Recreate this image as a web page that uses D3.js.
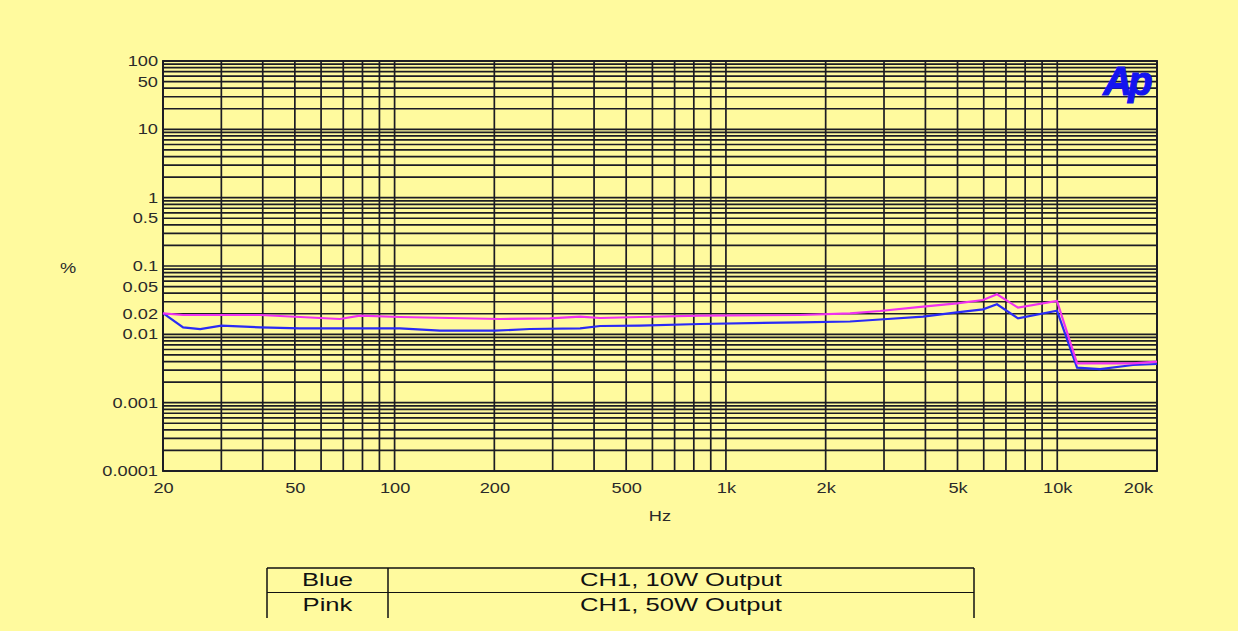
<!DOCTYPE html>
<html><head><meta charset="utf-8">
<script src="https://cdn.jsdelivr.net/npm/d3@7"></script>
<style>
html,body{margin:0;padding:0;background:#fff;}
svg{display:block;}
text{font-family:"Liberation Sans",Arial,sans-serif;}
</style></head>
<body>
<svg id="chart" width="1238" height="631"></svg>
<script>
// ---- data ----
const blueFreq = [20, 23, 25.9, 30, 39.3, 51.8, 103.8, 137, 201, 256, 363, 417, 550, 836, 1673, 2368, 2918, 3934, 4980, 5970, 6578, 7612, 9980, 11474, 13460, 16930, 20000];
const blueVal  = [0.0205, 0.01267, 0.01196, 0.01337, 0.01267, 0.01225, 0.01225, 0.0113, 0.0113, 0.01196, 0.01225, 0.01324, 0.01345, 0.01416, 0.0150, 0.0154, 0.01648, 0.01811, 0.0210, 0.02323, 0.0275, 0.01716, 0.0222, 0.00325, 0.0031, 0.00356, 0.00368];
const pinkFreq = [20, 23, 39.3, 68.4, 78.6, 103.8, 208, 294, 363, 417, 550, 836, 1673, 2368, 2918, 3934, 4980, 5970, 6578, 7612, 9980, 11474, 16930, 20000];
const pinkVal  = [0.0203, 0.01918, 0.01918, 0.01676, 0.01873, 0.01792, 0.01676, 0.01715, 0.01811, 0.01734, 0.01792, 0.01873, 0.01918, 0.0203, 0.02195, 0.02536, 0.02844, 0.03179, 0.03855, 0.02453, 0.03076, 0.003767, 0.003767, 0.003975];
const xTickVals = [20, 50, 100, 200, 500, 1000, 2000, 5000, 10000, 20000];
const xTickLabels = ["20", "50", "100", "200", "500", "1k", "2k", "5k", "10k", "20k"];
const yTickVals = [100, 50, 10, 1, 0.5, 0.1, 0.05, 0.02, 0.01, 0.001, 0.0001];
const yTickLabels = ["100", "50", "10", "1", "0.5", "0.1", "0.05", "0.02", "0.01", "0.001", "0.0001"];
const legendNames = ["Blue", "Pink"];
const legendDescs = ["CH1, 10W Output", "CH1, 50W Output"];

// ---- layout ----
const svg = d3.select("#chart");
const L = 163, R = 1157, T = 61, B = 471;
const bg = "#fffa9e";
const ink = "#1c1c24";
svg.append("rect").attr("x", 0).attr("y", 0).attr("width", 1238).attr("height", 631).attr("fill", bg);

const x = d3.scaleLog().domain([20, 20000]).range([L, R]);
const y = d3.scaleLog().domain([0.0001, 100]).range([B, T]);

function stretch(sel, f) {
  sel.each(function () {
    const w = this.getComputedTextLength();
    d3.select(this).attr("textLength", w * f).attr("lengthAdjust", "spacingAndGlyphs");
  });
}

// gridlines
const xGrid = [];
for (let d = 10; d <= 10000; d *= 10) for (let m = 1; m <= 9; m++) { const v = d * m; if (v >= 20 && v <= 20000) xGrid.push(v); }
const yGrid = [];
for (let d = 0.0001; d < 100; d *= 10) for (let m = 1; m <= 9; m++) yGrid.push(+(d * m).toPrecision(3));
yGrid.push(100);

const g = svg.append("g");
g.selectAll("line.hg").data(yGrid).join("line")
  .attr("x1", L).attr("x2", R).attr("y1", d => y(d)).attr("y2", d => y(d))
  .attr("stroke", ink).attr("stroke-width", 1.7);
g.selectAll("line.vg").data(xGrid).join("line")
  .attr("y1", T).attr("y2", B).attr("x1", d => x(d)).attr("x2", d => x(d))
  .attr("stroke", ink).attr("stroke-width", 1.7);
g.append("rect").attr("x", L).attr("y", T).attr("width", R - L).attr("height", B - T)
  .attr("fill", "none").attr("stroke", ink).attr("stroke-width", 1.9);

// axes labels
const labCol = "#2a2a2a";
const yAxis = d3.axisLeft(y).tickValues(yTickVals).tickSize(0).tickPadding(5)
  .tickFormat((d, i) => yTickLabels[i]);
const ya = svg.append("g").attr("transform", `translate(${L},0)`).call(yAxis);
ya.select(".domain").remove();
ya.selectAll("text").attr("font-size", 14).attr("fill", labCol).attr("font-family", "Liberation Sans, Arial, sans-serif");
stretch(ya.selectAll("text"), 1.3);

const xAxis = d3.axisBottom(x).tickValues(xTickVals).tickSize(0).tickPadding(12)
  .tickFormat((d, i) => xTickLabels[i]);
const xa = svg.append("g").attr("transform", `translate(0,${B})`).call(xAxis);
xa.select(".domain").remove();
xa.selectAll("text").attr("font-size", 14).attr("fill", labCol).attr("font-family", "Liberation Sans, Arial, sans-serif");
stretch(xa.selectAll("text"), 1.3);
xa.selectAll("text").filter(d => d === 20000).attr("x", -19);

const hz = svg.append("text").attr("x", 660).attr("y", 521).attr("text-anchor", "middle")
  .attr("font-size", 14).attr("fill", labCol).text("Hz");
stretch(hz, 1.3);
const pc = svg.append("text").attr("x", 68).attr("y", 273).attr("text-anchor", "middle")
  .attr("font-size", 14).attr("fill", labCol).text("%");
stretch(pc, 1.3);

// Ap logo
svg.append("text").attr("x", 1126).attr("y", 95).attr("text-anchor", "middle")
  .attr("font-size", 40).attr("font-weight", "bold").attr("font-style", "italic")
  .attr("fill", "#1414f0").attr("stroke", "#1414f0").attr("stroke-width", 1.2)
  .attr("letter-spacing", -4).text("Ap");

// curves
const line = d3.line().x(d => x(d[0])).y(d => y(d[1]));
svg.append("path").datum(blueFreq.map((f, i) => [f, blueVal[i]]))
  .attr("d", line).attr("fill", "none").attr("stroke", "#2a2af5").attr("stroke-width", 2.2);
svg.append("path").datum(pinkFreq.map((f, i) => [f, pinkVal[i]]))
  .attr("d", line).attr("fill", "none").attr("stroke", "#f032f0").attr("stroke-width", 2.2);

// legend table
const tL = 267, tM = 388, tR = 974, tT = 568, rowH = 24.5, tB = 618;
const lg = svg.append("g");
lg.append("line").attr("x1", tL).attr("x2", tR).attr("y1", tT).attr("y2", tT).attr("stroke", "#111").attr("stroke-width", 1.5);
lg.append("line").attr("x1", tL).attr("x2", tR).attr("y1", tT + rowH).attr("y2", tT + rowH).attr("stroke", "#111").attr("stroke-width", 1.2);
[tL, tM, tR].forEach(xx => lg.append("line").attr("x1", xx).attr("x2", xx).attr("y1", tT).attr("y2", tB).attr("stroke", "#111").attr("stroke-width", 1.5));
const nm = lg.selectAll("text.nm").data(legendNames).join("text")
  .attr("x", (tL + tM) / 2).attr("y", (d, i) => tT + rowH * i + 18)
  .attr("text-anchor", "middle").attr("font-size", 18).attr("fill", "#111").text(d => d);
stretch(nm, 1.42);
const ds = lg.selectAll("text.ds").data(legendDescs).join("text")
  .attr("x", (tM + tR) / 2).attr("y", (d, i) => tT + rowH * i + 18)
  .attr("text-anchor", "middle").attr("font-size", 18).attr("fill", "#111").text(d => d);
stretch(ds, 1.42);
</script>
</body></html>
